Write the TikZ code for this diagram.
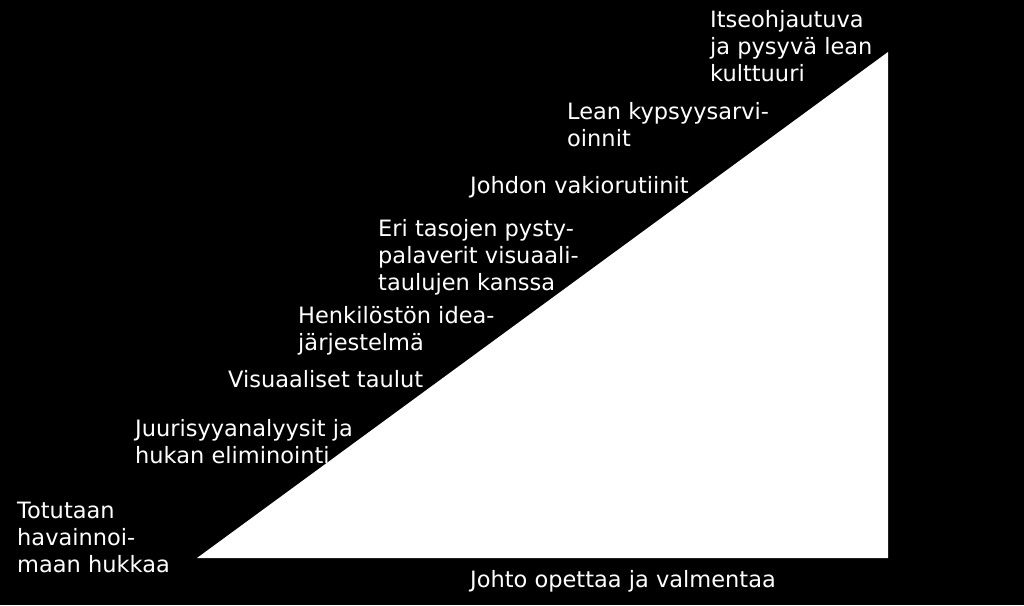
\documentclass[tikz,border=0pt]{standalone}
\usepackage{fontspec}
\setmainfont{DejaVu Sans}
\begin{document}
\begin{tikzpicture}[x=1pt,y=-1pt]
    \tikzstyle{stage}=[text=white,anchor=base west,align=left,inner sep=0pt,font=\fontsize{22.5}{27}\selectfont]
    \useasboundingbox (0,0) rectangle (1024,605);
    \fill[black] (0,0) rectangle (1024,605);
    \fill[white] (197,558) -- (888,52) -- (888,558) -- cycle;

    % y is the baseline of the last line of each label
    \foreach \num/\x/\y/\txt in {1/17/572/{Totutaan\\havainnoi-\\maan hukkaa},
            2/135/463/{Juurisyyanalyysit ja\\hukan eliminointi},
            3/228/387/{Visuaaliset taulut},
            4/298/350/{Henkilöstön idea-\\järjestelmä},
            5/378/290/{Eri tasojen pysty-\\palaverit visuaali-\\taulujen kanssa},
            6/470/193/{Johdon vakiorutiinit},
            7/567/146/{Lean kypsyysarvi-\\oinnit},
            8/710/81/{Itseohjautuva\\ja pysyvä lean\\kulttuuri}}
        \node[stage] (S-\num) at (\x,\y) {\txt};

    \node[stage] (lead) at (470,587) {Johto opettaa ja valmentaa};
\end{tikzpicture}
\end{document}
